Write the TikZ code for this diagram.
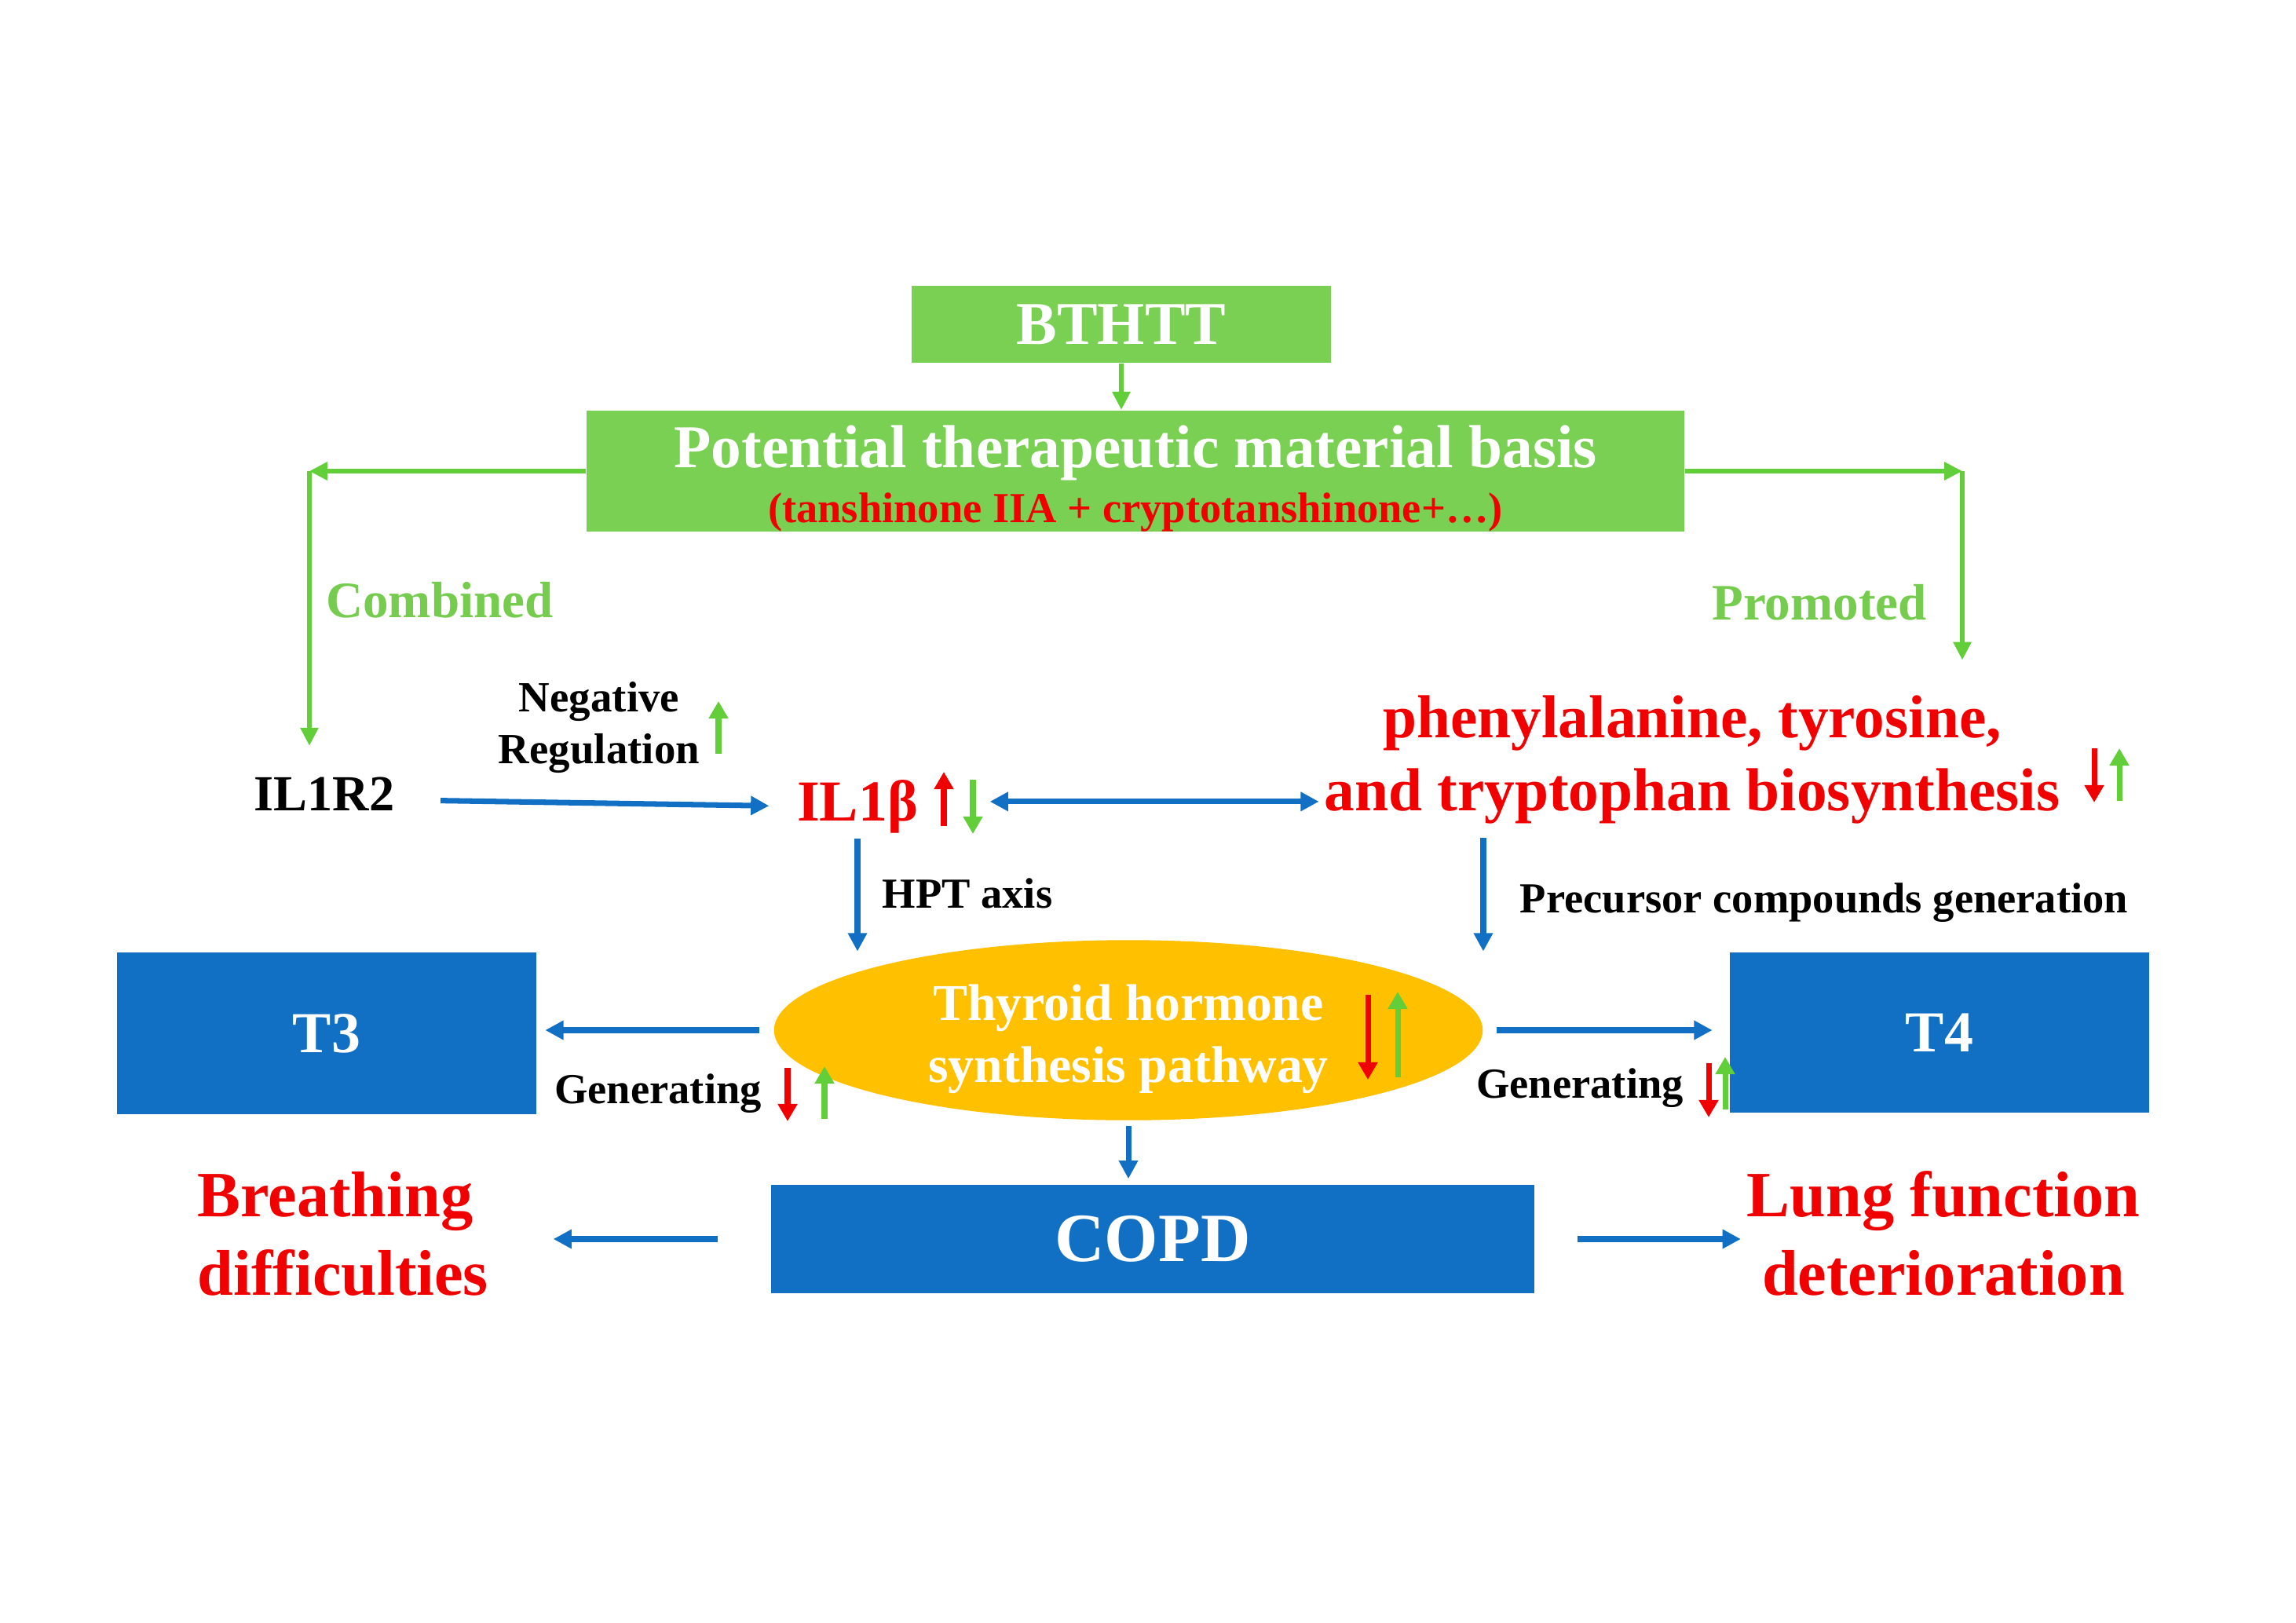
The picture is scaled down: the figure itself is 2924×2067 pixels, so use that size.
\documentclass[tikz,border=0pt]{standalone}
\usepackage{fontspec}
\setmainfont{Liberation Serif}
\usetikzlibrary{arrows.meta,shapes.geometric,calc}
\definecolor{boxgreen}{RGB}{122,208,82}
\definecolor{linegreen}{RGB}{98,206,58}
\definecolor{textgreen}{RGB}{118,204,78}
\definecolor{boxblue}{RGB}{17,112,196}
\definecolor{pathyellow}{RGB}{255,192,0}
\definecolor{hotred}{RGB}{240,0,0}

\begin{document}
\begin{tikzpicture}[x=0.01cm,y=-0.01cm,line join=bevel,
  greenbox/.style={rectangle,fill=boxgreen,inner sep=0pt,text=white},
  bluebox/.style={rectangle,fill=boxblue,inner sep=0pt,text=white},
  txt/.style={inner sep=0pt},
  blueline/.style={-{Triangle[width=6.6pt,length=6.6pt]},draw=boxblue,line width=2pt},
  greenline/.style={-{Triangle[width=6.3pt,length=6.5pt]},draw=linegreen,line width=1.5pt},
  redind/.style={-{Triangle[width=6.8pt,length=6.3pt]},draw=hotred,line width=2pt},
  greenind/.style={-{Triangle[width=6.8pt,length=6.3pt]},draw=linegreen,line width=2pt}]
  \path [use as bounding box,fill=white] (0,0) rectangle (2924,2067);
%%
  % Node: bthtt
  \node (bthtt) [greenbox,minimum width=5.33cm,minimum height=0.98cm,font=\bfseries\fontsize{22}{26}\selectfont] at (1428,413) {BTHTT};
  % Node: basis
  \node (basis) [greenbox,minimum width=13.97cm,minimum height=1.54cm,align=center,font=\bfseries\fontsize{22}{20}\selectfont] at (1446,600) {\rule{0pt}{20.7pt}Potential therapeutic material basis\\{\color{hotred}\fontsize{15.5}{20}\selectfont (tanshinone IIA + cryptotanshinone+…)}};
  % Node: combined
  \node (combined) [txt,anchor=base,text=textgreen,font=\bfseries\fontsize{18.5}{22}\selectfont] at (560,786) {Combined};
  % Node: promoted
  \node (promoted) [txt,anchor=base,text=textgreen,font=\bfseries\fontsize{18.5}{22}\selectfont] at (2317,789) {Promoted};
  % Node: il1r2
  \node (il1r2) [txt,anchor=base,font=\bfseries\fontsize{18.3}{22}\selectfont] at (413,1032) {IL1R2};
  % Node: negreg
  \node (negreg) [txt,anchor=base,align=center,font=\bfseries\fontsize{15.6}{18.5}\selectfont] at (763,972) {Negative\\Regulation};
  % Node: il1b
  \node (il1b) [txt,anchor=base,text=hotred,font=\bfseries\fontsize{21}{24}\selectfont] at (1092,1045) {IL1β};
  % Node: aromatic
  \node (aromatic) [txt,anchor=base,align=center,text=hotred,font=\bfseries\fontsize{22}{26.2}\selectfont] at (2155,1032) {phenylalanine, tyrosine,\\and tryptophan biosynthesis};
  % Node: hpt
  \node (hpt) [txt,anchor=base,font=\bfseries\fontsize{15.5}{18}\selectfont] at (1232,1156) {HPT axis};
  % Node: precursor
  \node (precursor) [txt,anchor=base,font=\bfseries\fontsize{15.5}{18}\selectfont] at (2323,1162) {Precursor compounds generation};
  % Node: thyroid
  \node (thyroid) [ellipse,fill=pathyellow,inner sep=0pt,minimum width=9.02cm,minimum height=2.2cm,text=white,align=center,font=\bfseries\fontsize{18.7}{22.6}\selectfont] at (1437,1312) {\rule{0pt}{19.5pt}Thyroid hormone\\synthesis pathway};
  % Node: t3
  \node (t3) [bluebox,minimum width=5.33cm,minimum height=2.06cm,font=\bfseries\fontsize{21}{24}\selectfont] at (416,1316) {T3};
  % Node: t4
  \node (t4) [bluebox,minimum width=5.33cm,minimum height=2.04cm,font=\bfseries\fontsize{21}{24}\selectfont] at (2470,1315) {T4};
  % Node: gen3
  \node (gen3) [txt,anchor=base,font=\bfseries\fontsize{15.5}{18}\selectfont] at (838,1405) {Generating};
  % Node: gen4
  \node (gen4) [txt,anchor=base,font=\bfseries\fontsize{15.5}{18}\selectfont] at (2012,1398) {Generating};
  % Node: copd
  \node (copd) [bluebox,minimum width=9.72cm,minimum height=1.38cm,font=\bfseries\fontsize{25}{28}\selectfont] at (1468,1578) {COPD};
  % Node: breathing
  \node (breathing) [txt,anchor=base west,align=left,text=hotred,font=\bfseries\fontsize{23.4}{28.2}\selectfont] at (251,1649) {Breathing\\difficulties};
  % Node: lung
  \node (lung) [txt,anchor=base,align=center,text=hotred,font=\bfseries\fontsize{23.4}{28.2}\selectfont] at (2475,1649) {Lung function\\deterioration};
  % corners of the green lines
  \coordinate (cl) at (394,600);
  \coordinate (cr) at (2499,600);
%%
  % Edge: bthtt -> basis
  \draw [greenline] (bthtt.south) -- (bthtt.south |- basis.north);
  % Edge: basis -> il1r2
  \draw [greenline] (basis.west) -- (cl);
  \draw [greenline,shorten >=0.39cm] (cl) -- (cl |- il1r2.north);
  % Edge: basis -> aromatic
  \draw [greenline] (basis.east) -- (cr);
  \draw [greenline,shorten >=0.45cm] (cr) -- (cr |- aromatic.north);
  % Edge: il1r2 -> il1b
  \draw [blueline,shorten <=0.58cm,shorten >=0.35cm] ([yshift=-0.08cm]il1r2.east) -- (il1b.west);
  % Edge: il1b <-> aromatic
  \draw [blueline,{Triangle[width=6.6pt,length=6.6pt]}-{Triangle[width=6.6pt,length=6.6pt]},shorten <=0.91cm,shorten >=0.06cm] ([yshift=0.06cm]il1b.east) -- ([yshift=0.06cm]il1b.east -| aromatic.west);
  % Edge: il1b -> thyroid
  \draw [blueline,shorten <=0.07cm] (il1b.south) -- ($(il1b.south |- thyroid.north)+(0,15)$);
  % Edge: aromatic -> thyroid
  \draw [blueline,shorten <=0.18cm] (aromatic.south -| thyroid.east) -- ($(thyroid.east |- thyroid.north)+(0,15)$);
  % Edge: thyroid -> t3
  \draw [blueline,shorten <=0.18cm,shorten >=0.11cm] (thyroid.west) -- (thyroid.west -| t3.east);
  % Edge: thyroid -> t4
  \draw [blueline,shorten <=0.17cm,shorten >=0.22cm] (thyroid.east) -- (thyroid.east -| t4.west);
  % Edge: thyroid -> copd
  \draw [blueline,shorten <=0.07cm,shorten >=0.07cm] (thyroid.south) -- (thyroid.south |- copd.north);
  % Edge: copd -> breathing
  \draw [blueline,shorten <=0.67cm,shorten >=0.82cm] (copd.west) -- (copd.west -| breathing.east);
  % Edge: copd -> lung
  \draw [blueline,shorten <=0.54cm,shorten >=0.07cm] (copd.east) -- (copd.east -| lung.west);
%%
  % up / down marks
  \draw [greenind] (915,960) -- (915,893);
  \draw [redind] (1202,1052) -- (1202,983);
  \draw [greenind] (1239,993) -- (1239,1062);
  \draw [redind] (2667,953) -- (2667,1022);
  \draw [greenind] (2699,1020) -- (2699,953);
  \draw [redind] (1742,1267) -- (1742,1375);
  \draw [greenind] (1780,1372) -- (1780,1263);
  \draw [redind] (1003,1360) -- (1003,1428);
  \draw [greenind] (1050,1425) -- (1050,1358);
  \draw [redind] (2176,1354) -- (2176,1423);
  \draw [greenind] (2197,1413) -- (2197,1346);
%
\end{tikzpicture}
\end{document}
